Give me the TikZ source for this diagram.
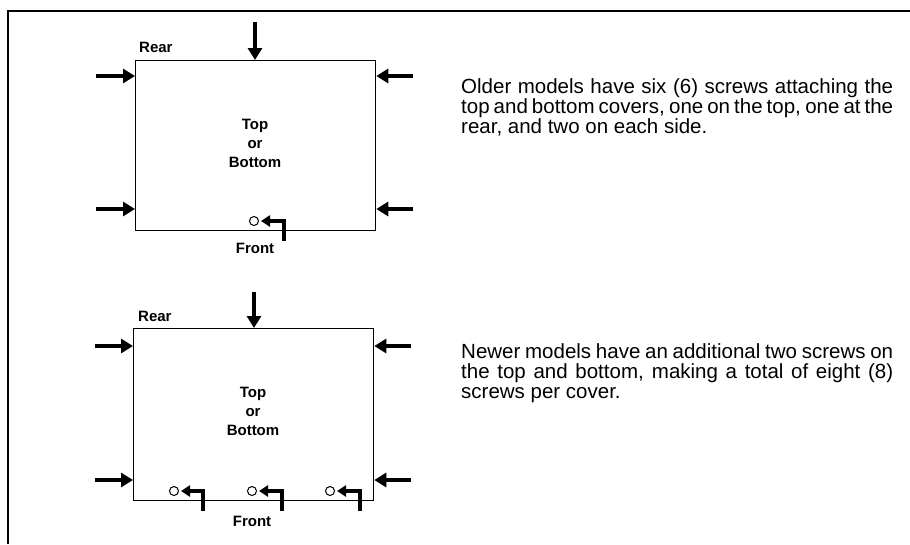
\documentclass[tikz,border=0pt]{standalone}
\usepackage{fontspec}
\setmainfont{Liberation Sans}
\usetikzlibrary{arrows.meta,calc}
\begin{document}
\begin{tikzpicture}[x=1pt,y=-1pt,
  coverbox/.style={draw,line width=1.3pt,minimum width=240pt,minimum height=170pt,anchor=north west,inner sep=0pt},
  push/.style={line width=3.6pt,-{Triangle[length=12pt,width=14pt]}},
  bent/.style={line width=3.4pt,-{Triangle[length=9pt,width=11pt]},shorten >=2pt},
  screw/.style={circle,draw,line width=1pt,minimum size=9pt,inner sep=0pt},
  lbl/.style={font=\bfseries\fontsize{15}{19}\selectfont,inner sep=0pt,align=center},
  body/.style={font=\fontsize{20.5}{20}\selectfont,inner sep=0pt,anchor=base west}]
\useasboundingbox (0,0) rectangle (910,544);
% frame
\draw[line width=2pt] (910,11) -- (8,11) -- (8,544);

% ---------- upper cover ----------
\node[coverbox] (b1) at (135,60) {};
\node[lbl] (c1) at (255,143) {Top\\or\\Bottom};
\node[lbl,anchor=base west] (r1) at (139,52) {Rear};
\node[lbl,anchor=base] (fr1) at (255,253) {Front};
\coordinate (t1) at (255,22);
\coordinate (la1) at (96,76);
\coordinate (lb1) at (96,209);
\coordinate (ra1) at (413,76);
\coordinate (rb1) at (413,209);
\draw[push] (t1) -- (t1 |- b1.north);
\draw[push] (la1) -- (la1 -| b1.west);
\draw[push] (lb1) -- (lb1 -| b1.west);
\draw[push] (ra1) -- (ra1 -| b1.east);
\draw[push] (rb1) -- (rb1 -| b1.east);
\node[screw] (s1) at (254,221) {};
\coordinate (f1) at (284,241);
\draw[bent] (f1) |- (s1.east);

\node[body] (o1) at (461,93) {\makebox[432pt][s]{Older models have six (6) screws attaching the}};
\node[body] (o2) at (461,113) {\makebox[432pt][s]{top and bottom covers, one on the top, one at the}};
\node[body] (o3) at (461,133) {rear, and two on each side.};

% ---------- lower cover ----------
\node[coverbox,minimum height=172pt] (b2) at (133,328) {};
\node[lbl] (c2) at (253,411) {Top\\or\\Bottom};
\node[lbl,anchor=base west] (r2) at (138,321) {Rear};
\node[lbl,anchor=base] (fr2) at (252,526) {Front};
\coordinate (t2) at (254,292);
\coordinate (la2) at (95,346);
\coordinate (lb2) at (95,480);
\coordinate (ra2) at (411,346);
\coordinate (rb2) at (411,480);
\draw[push] (t2) -- (t2 |- b2.north);
\draw[push] (la2) -- (la2 -| b2.west);
\draw[push] (lb2) -- (lb2 -| b2.west);
\draw[push] (ra2) -- (ra2 -| b2.east);
\draw[push] (rb2) -- (rb2 -| b2.east);
\node[screw] (s2a) at (174,491) {};
\node[screw] (s2b) at (252,491) {};
\node[screw] (s2c) at (330,491) {};
\coordinate (f2a) at (203,511);
\coordinate (f2b) at (282,511);
\coordinate (f2c) at (360,511);
\draw[bent] (f2a) |- (s2a.east);
\draw[bent] (f2b) |- (s2b.east);
\draw[bent] (f2c) |- (s2c.east);

\node[body] (n1) at (461,358) {\makebox[432pt][s]{Newer models have an additional two screws on}};
\node[body] (n2) at (461,378) {\makebox[432pt][s]{the top and bottom, making a total of eight (8)}};
\node[body] (n3) at (461,398) {screws per cover.};
\end{tikzpicture}
\end{document}
